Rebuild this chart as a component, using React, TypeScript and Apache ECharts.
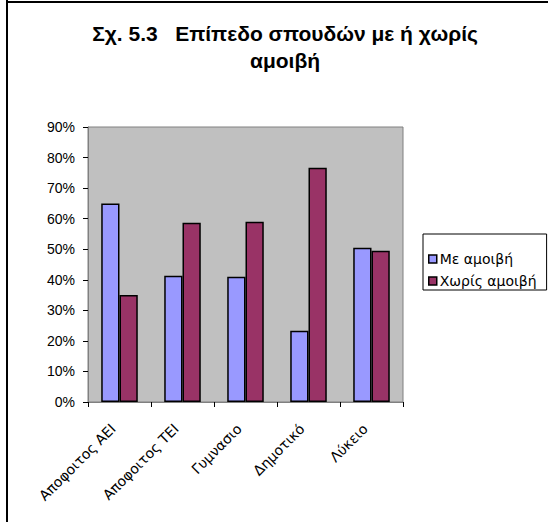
import React, { useEffect, useRef } from "react";
import * as echarts from "echarts";

const categories = ["Αποφοιτος ΑΕΙ", "Αποφοιτος ΤΕΙ", "Γυμνασιο", "Δημοτικό", "Λύκειο"];
const withPay = [65.0, 41.3, 41.0, 23.3, 50.5];
const withoutPay = [35.0, 58.7, 59.0, 76.7, 49.5];
const seriesNames = ["Με αμοιβή", "Χωρίς αμοιβή"];
const titleText = "Σχ. 5.3   Επίπεδο σπουδών με ή χωρίς\nαμοιβή";

export default function App() {
  const ref = useRef<HTMLDivElement>(null);
  useEffect(() => {
    if (!ref.current) return;
    const chart = echarts.init(ref.current, null, { renderer: "svg" });
    const font = "Liberation Sans, Arial, sans-serif";
    const font2 = "DejaVu Sans, sans-serif";
    chart.setOption({
      animation: false,
      backgroundColor: "#ffffff",
      title: {
        text: titleText,
        left: 280,
        textAlign: "center",
        top: 15,
        textStyle: {
          fontFamily: font,
          fontWeight: "bold",
          fontSize: 21,
          lineHeight: 27,
          color: "#000",
          align: "center",
        },
      },
      graphic: [
        {
          type: "line",
          shape: { x1: 7, y1: 0, x2: 7, y2: 522 },
          style: { stroke: "#000", lineWidth: 2 },
          silent: true,
        },
        {
          type: "line",
          shape: { x1: 6, y1: 2, x2: 548, y2: 2 },
          style: { stroke: "#000", lineWidth: 2 },
          silent: true,
        },
      ],
      legend: {
        orient: "vertical",
        left: 423,
        top: 234,
        padding: [18, 10, 2, 5],
        itemGap: 8,
        itemWidth: 8,
        itemHeight: 8,
        borderColor: "#000",
        borderWidth: 1,
        backgroundColor: "#fff",
        icon: "rect",
        itemStyle: { borderColor: "#000", borderWidth: 1.5 },
        textStyle: { fontFamily: font2, fontSize: 14, color: "#000", padding: [0, 0, 0, -2] },
        data: seriesNames,
      },
      grid: {
        left: 88,
        top: 127,
        right: 145,
        bottom: 120,
        show: true,
        backgroundColor: "#C0C0C0",
        borderColor: "#808080",
        borderWidth: 1,
      },
      xAxis: {
        type: "category",
        data: categories,
        boundaryGap: true,
        axisLine: { lineStyle: { color: "#808080", width: 1 } },
        axisTick: { show: true, interval: 0, length: 5, lineStyle: { color: "#000" } },
        axisLabel: {
          interval: 0,
          rotate: 45,
          margin: 18,
          padding: [0, 9, 0, 0],
          fontFamily: font2,
          fontSize: 14,
          color: "#000",
        },
      },
      yAxis: {
        type: "value",
        min: 0,
        max: 90,
        interval: 10,
        splitLine: { show: false },
        axisLine: { show: true, lineStyle: { color: "#808080", width: 1 } },
        axisTick: { show: true, length: 5, lineStyle: { color: "#000" } },
        axisLabel: {
          formatter: "{value}%",
          margin: 13,
          fontFamily: font,
          fontSize: 14,
          color: "#000",
        },
      },
      series: [
        {
          name: seriesNames[0],
          type: "bar",
          data: withPay,
          barGap: "0%",
          barCategoryGap: "42%",
          itemStyle: { color: "#9999FF", borderColor: "#000", borderWidth: 1.5 },
        },
        {
          name: seriesNames[1],
          type: "bar",
          data: withoutPay,
          barGap: "0%",
          barCategoryGap: "42%",
          itemStyle: { color: "#993366", borderColor: "#000", borderWidth: 1.5 },
        },
      ],
    });
    return () => chart.dispose();
  }, []);
  return (
    <div
      ref={ref}
      style={{ position: "absolute", left: 0, top: 0, width: 548, height: 522 }}
    />
  );
}
